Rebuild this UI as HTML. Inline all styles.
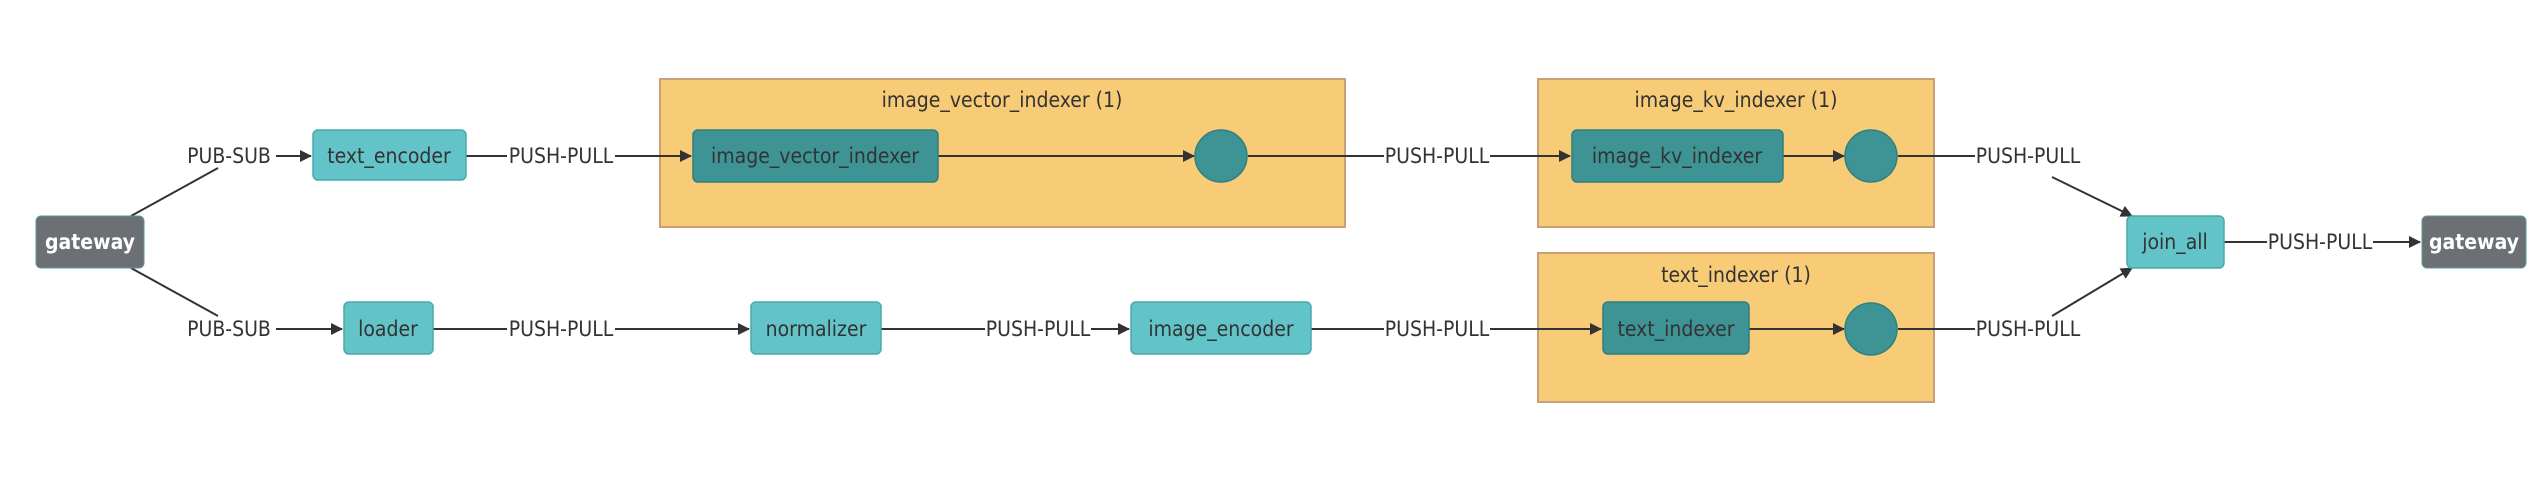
<!DOCTYPE html>
<html><head><meta charset="utf-8"><style>
html,body{margin:0;padding:0;background:#fff;}
svg{display:block;}
text{font-family:"DejaVu Sans Condensed","Liberation Sans",sans-serif;font-size:21px;fill:#333;}
</style></head><body>
<svg width="2544" height="500" viewBox="0 0 2544 500" xmlns="http://www.w3.org/2000/svg">
<defs>
<marker id="a" markerWidth="12" markerHeight="12" refX="11" refY="6" orient="auto" markerUnits="userSpaceOnUse">
<path d="M0,0 L12,6 L0,12 z" fill="#333"/></marker>
<clipPath id="c1"><rect x="313" y="130" width="144" height="50"/></clipPath>
<clipPath id="c2"><rect x="751" y="302" width="122" height="52"/></clipPath>
<clipPath id="c3"><rect x="1603" y="302" width="138" height="52"/></clipPath>
<clipPath id="c4"><rect x="660" y="79" width="465" height="40"/></clipPath>
<clipPath id="c5"><rect x="1538" y="253" width="274" height="40"/></clipPath>
</defs>
<rect x="660" y="79" width="685" height="148" fill="#f8cc77" stroke="#c9a07a" stroke-width="2"/>
<rect x="1538" y="79" width="396" height="148" fill="#f8cc77" stroke="#c9a07a" stroke-width="2"/>
<rect x="1538" y="253" width="396" height="149" fill="#f8cc77" stroke="#c9a07a" stroke-width="2"/>
<text x="1002" y="107" text-anchor="middle" clip-path="url(#c4)">image_vector_indexer (1)</text>
<text x="1736" y="107" text-anchor="middle">image_kv_indexer (1)</text>
<text x="1736" y="282" text-anchor="middle" clip-path="url(#c5)">text_indexer (1)</text>

<g stroke="#333" stroke-width="2" fill="none">
<line x1="131" y1="216" x2="218" y2="168"/>
<line x1="131" y1="268" x2="218" y2="316"/>
<line x1="276" y1="156" x2="311" y2="156" marker-end="url(#a)"/>
<line x1="276" y1="329" x2="342" y2="329" marker-end="url(#a)"/>
<line x1="466" y1="156" x2="507" y2="156"/>
<line x1="615" y1="156" x2="691" y2="156" marker-end="url(#a)"/>
<line x1="938" y1="156" x2="1194" y2="156" marker-end="url(#a)"/>
<line x1="1248" y1="156" x2="1384" y2="156"/>
<line x1="1490" y1="156" x2="1570" y2="156" marker-end="url(#a)"/>
<line x1="1783" y1="156" x2="1844" y2="156" marker-end="url(#a)"/>
<line x1="1898" y1="156" x2="1975" y2="156"/>
<line x1="2052" y1="177" x2="2132" y2="216" marker-end="url(#a)"/>
<line x1="433" y1="329" x2="507" y2="329"/>
<line x1="615" y1="329" x2="749" y2="329" marker-end="url(#a)"/>
<line x1="881" y1="329" x2="985" y2="329"/>
<line x1="1091" y1="329" x2="1129" y2="329" marker-end="url(#a)"/>
<line x1="1311" y1="329" x2="1384" y2="329"/>
<line x1="1490" y1="329" x2="1601" y2="329" marker-end="url(#a)"/>
<line x1="1749" y1="329" x2="1844" y2="329" marker-end="url(#a)"/>
<line x1="1898" y1="329" x2="1975" y2="329"/>
<line x1="2052" y1="316" x2="2132" y2="268" marker-end="url(#a)"/>
<line x1="2224" y1="242" x2="2267" y2="242"/>
<line x1="2373" y1="242" x2="2420" y2="242" marker-end="url(#a)"/>
</g>

<g>
<text x="229" y="163" text-anchor="middle">PUB-SUB</text>
<text x="229" y="336" text-anchor="middle">PUB-SUB</text>
<text x="561" y="163" text-anchor="middle">PUSH-PULL</text>
<text x="561" y="336" text-anchor="middle">PUSH-PULL</text>
<text x="1038" y="336" text-anchor="middle">PUSH-PULL</text>
<text x="1437" y="163" text-anchor="middle">PUSH-PULL</text>
<text x="1437" y="336" text-anchor="middle">PUSH-PULL</text>
<text x="2028" y="163" text-anchor="middle">PUSH-PULL</text>
<text x="2028" y="336" text-anchor="middle">PUSH-PULL</text>
<text x="2320" y="249" text-anchor="middle">PUSH-PULL</text>
</g>

<rect x="36" y="216" width="108" height="52" rx="5" fill="#6c7075" stroke="#5a9a9a" stroke-width="1"/>
<text x="90" y="249" text-anchor="middle" style="fill:#fff;font-weight:bold">gateway</text>
<rect x="2422" y="216" width="104" height="52" rx="5" fill="#6c7075" stroke="#5a9a9a" stroke-width="1"/>
<text x="2474" y="249" text-anchor="middle" style="fill:#fff;font-weight:bold">gateway</text>

<g fill="#62c4c8" stroke="#4aa8ac" stroke-width="1.5">
<rect x="313" y="130" width="153" height="50" rx="5"/>
<rect x="344" y="302" width="89" height="52" rx="5"/>
<rect x="751" y="302" width="130" height="52" rx="5"/>
<rect x="1131" y="302" width="180" height="52" rx="5"/>
<rect x="2127" y="216" width="97" height="52" rx="5"/>
</g>
<text x="389" y="163" text-anchor="middle" clip-path="url(#c1)">text_encoder</text>
<text x="388" y="336" text-anchor="middle">loader</text>
<text x="816" y="336" text-anchor="middle" clip-path="url(#c2)">normalizer</text>
<text x="1221" y="336" text-anchor="middle">image_encoder</text>
<text x="2175" y="249" text-anchor="middle">join_all</text>

<g fill="#3e9494" stroke="#2e8080" stroke-width="1.5">
<rect x="693" y="130" width="245" height="52" rx="5"/>
<rect x="1572" y="130" width="211" height="52" rx="5"/>
<rect x="1603" y="302" width="146" height="52" rx="5"/>
<circle cx="1221" cy="156" r="26"/>
<circle cx="1871" cy="156" r="26"/>
<circle cx="1871" cy="329" r="26"/>
</g>
<text x="815" y="163" text-anchor="middle">image_vector_indexer</text>
<text x="1677" y="163" text-anchor="middle">image_kv_indexer</text>
<text x="1676" y="336" text-anchor="middle" clip-path="url(#c3)">text_indexer</text>
</svg>
</body></html>
